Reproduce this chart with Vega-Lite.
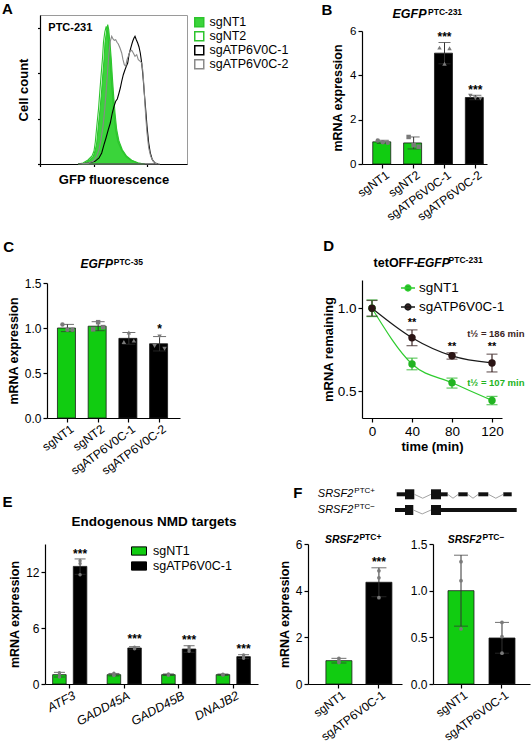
{
"$schema": "https://vega.github.io/schema/vega-lite/v6.json",
"autosize": {"type": "none"},
"padding": {"left": 40, "top": 15, "right": 491, "bottom": 735},
"background": "white",
"config": {
 "font": "Liberation Sans",
 "view": {"stroke": null},
 "axis": {"grid": false, "domainColor": "#000", "domainWidth": 1.2, "tickColor": "#000", "tickWidth": 1.2, "tickSize": 4, "labelColor": "#000", "labelFontSize": 11.5, "labelPadding": 2, "titleColor": "#000", "titleFontSize": 12.5, "titleFontWeight": "bold", "labelOverlap": false, "labelFlush": false},
 "text": {"color": "#000", "baseline": "alphabetic", "align": "left", "fontWeight": "bold"},
 "legend": {"labelColor": "#000", "labelFontSize": 12}
},
"datasets": {
 "A": [
  {"s":"sgNT1","x":41.7,"y":0},{"s":"sgNT1","x":45,"y":1},{"s":"sgNT1","x":50,"y":4.3},{"s":"sgNT1","x":53.3,"y":7.7},{"s":"sgNT1","x":55,"y":12.7},{"s":"sgNT1","x":56.7,"y":21},{"s":"sgNT1","x":58.3,"y":37.7},{"s":"sgNT1","x":60,"y":54.3},{"s":"sgNT1","x":61.7,"y":74.3},{"s":"sgNT1","x":62.7,"y":87.7},{"s":"sgNT1","x":64,"y":104.3},{"s":"sgNT1","x":65,"y":121},{"s":"sgNT1","x":66.3,"y":131},{"s":"sgNT1","x":67.7,"y":139.3},{"s":"sgNT1","x":68.7,"y":134.3},{"s":"sgNT1","x":70,"y":121},{"s":"sgNT1","x":71.3,"y":104.3},{"s":"sgNT1","x":72.3,"y":87.7},{"s":"sgNT1","x":73.7,"y":67.7},{"s":"sgNT1","x":75,"y":51},{"s":"sgNT1","x":76.7,"y":34.3},{"s":"sgNT1","x":79,"y":22.7},{"s":"sgNT1","x":82.3,"y":14.3},{"s":"sgNT1","x":86.7,"y":7.7},{"s":"sgNT1","x":91.7,"y":3.7},{"s":"sgNT1","x":98.3,"y":1},{"s":"sgNT1","x":105,"y":0},
  {"s":"sgNT2","x":38,"y":0},{"s":"sgNT2","x":43,"y":1},{"s":"sgNT2","x":48,"y":4},{"s":"sgNT2","x":52,"y":8},{"s":"sgNT2","x":54,"y":13},{"s":"sgNT2","x":55.3,"y":22},{"s":"sgNT2","x":56.8,"y":38},{"s":"sgNT2","x":58.5,"y":55},{"s":"sgNT2","x":60,"y":75},{"s":"sgNT2","x":61.2,"y":90},{"s":"sgNT2","x":62.5,"y":106},{"s":"sgNT2","x":63.5,"y":122},{"s":"sgNT2","x":64.8,"y":132},{"s":"sgNT2","x":66.2,"y":137.5},{"s":"sgNT2","x":67.3,"y":133},{"s":"sgNT2","x":68.7,"y":120},{"s":"sgNT2","x":70,"y":104},{"s":"sgNT2","x":71,"y":88},{"s":"sgNT2","x":72.5,"y":68},{"s":"sgNT2","x":73.8,"y":51},{"s":"sgNT2","x":75.5,"y":34},{"s":"sgNT2","x":78,"y":22},{"s":"sgNT2","x":81.5,"y":14},{"s":"sgNT2","x":86,"y":7.5},{"s":"sgNT2","x":91,"y":3.5},{"s":"sgNT2","x":98,"y":1},{"s":"sgNT2","x":104,"y":0},
  {"s":"sgATP6V0C-1","x":38.3,"y":0},{"s":"sgATP6V0C-1","x":48.3,"y":1},{"s":"sgATP6V0C-1","x":55,"y":2.7},{"s":"sgATP6V0C-1","x":59,"y":6},{"s":"sgATP6V0C-1","x":61.7,"y":11},{"s":"sgATP6V0C-1","x":64,"y":19.3},{"s":"sgATP6V0C-1","x":66,"y":26},{"s":"sgATP6V0C-1","x":68.3,"y":34.3},{"s":"sgATP6V0C-1","x":70.3,"y":41},{"s":"sgATP6V0C-1","x":72.3,"y":51},{"s":"sgATP6V0C-1","x":74,"y":57.7},{"s":"sgATP6V0C-1","x":75.7,"y":62.7},{"s":"sgATP6V0C-1","x":77.3,"y":65},{"s":"sgATP6V0C-1","x":79,"y":71},{"s":"sgATP6V0C-1","x":80.3,"y":76},{"s":"sgATP6V0C-1","x":81.7,"y":82.7},{"s":"sgATP6V0C-1","x":83.3,"y":89.3},{"s":"sgATP6V0C-1","x":85,"y":94.3},{"s":"sgATP6V0C-1","x":86.3,"y":97.7},{"s":"sgATP6V0C-1","x":87.7,"y":101},{"s":"sgATP6V0C-1","x":89,"y":109.3},{"s":"sgATP6V0C-1","x":90.3,"y":114.3},{"s":"sgATP6V0C-1","x":91.7,"y":119.3},{"s":"sgATP6V0C-1","x":92.7,"y":122.7},{"s":"sgATP6V0C-1","x":94,"y":126},{"s":"sgATP6V0C-1","x":95,"y":127.7},{"s":"sgATP6V0C-1","x":96.3,"y":124.3},{"s":"sgATP6V0C-1","x":97.7,"y":121},{"s":"sgATP6V0C-1","x":99,"y":117},{"s":"sgATP6V0C-1","x":100.3,"y":111},{"s":"sgATP6V0C-1","x":101.7,"y":101},{"s":"sgATP6V0C-1","x":103,"y":87.7},{"s":"sgATP6V0C-1","x":104.3,"y":71},{"s":"sgATP6V0C-1","x":105.7,"y":54.3},{"s":"sgATP6V0C-1","x":107,"y":37.7},{"s":"sgATP6V0C-1","x":108.7,"y":21},{"s":"sgATP6V0C-1","x":110.3,"y":11},{"s":"sgATP6V0C-1","x":112.3,"y":4.3},{"s":"sgATP6V0C-1","x":115,"y":1},{"s":"sgATP6V0C-1","x":118.3,"y":0},
  {"s":"sgATP6V0C-2","x":38.3,"y":0},{"s":"sgATP6V0C-2","x":48.3,"y":1},{"s":"sgATP6V0C-2","x":53.3,"y":2.7},{"s":"sgATP6V0C-2","x":56.7,"y":7.7},{"s":"sgATP6V0C-2","x":59,"y":14.3},{"s":"sgATP6V0C-2","x":61,"y":24.3},{"s":"sgATP6V0C-2","x":63,"y":37.7},{"s":"sgATP6V0C-2","x":64.7,"y":54.3},{"s":"sgATP6V0C-2","x":66.3,"y":74.3},{"s":"sgATP6V0C-2","x":67.7,"y":94.3},{"s":"sgATP6V0C-2","x":69,"y":111},{"s":"sgATP6V0C-2","x":70.3,"y":122.7},{"s":"sgATP6V0C-2","x":71.7,"y":127.7},{"s":"sgATP6V0C-2","x":73,"y":125},{"s":"sgATP6V0C-2","x":74.3,"y":123.7},{"s":"sgATP6V0C-2","x":75.7,"y":124.3},{"s":"sgATP6V0C-2","x":77,"y":121.7},{"s":"sgATP6V0C-2","x":78.3,"y":120},{"s":"sgATP6V0C-2","x":80,"y":116},{"s":"sgATP6V0C-2","x":81.7,"y":111},{"s":"sgATP6V0C-2","x":83,"y":104.3},{"s":"sgATP6V0C-2","x":84.3,"y":99.3},{"s":"sgATP6V0C-2","x":85.7,"y":97.7},{"s":"sgATP6V0C-2","x":87,"y":104.3},{"s":"sgATP6V0C-2","x":88.3,"y":107.7},{"s":"sgATP6V0C-2","x":90,"y":112.7},{"s":"sgATP6V0C-2","x":91.7,"y":113.7},{"s":"sgATP6V0C-2","x":93.3,"y":111},{"s":"sgATP6V0C-2","x":95,"y":107.7},{"s":"sgATP6V0C-2","x":96.7,"y":109.3},{"s":"sgATP6V0C-2","x":98.3,"y":104.3},{"s":"sgATP6V0C-2","x":100.3,"y":102.7},{"s":"sgATP6V0C-2","x":101.7,"y":101},{"s":"sgATP6V0C-2","x":102.7,"y":94.3},{"s":"sgATP6V0C-2","x":103.7,"y":81},{"s":"sgATP6V0C-2","x":104.7,"y":64.3},{"s":"sgATP6V0C-2","x":105.7,"y":47.7},{"s":"sgATP6V0C-2","x":107,"y":31},{"s":"sgATP6V0C-2","x":108.7,"y":16},{"s":"sgATP6V0C-2","x":110.7,"y":7.7},{"s":"sgATP6V0C-2","x":113.3,"y":2.7},{"s":"sgATP6V0C-2","x":116.7,"y":0.3},{"s":"sgATP6V0C-2","x":120,"y":0}
 ],
 "B": [{"g":"sgNT1","m":1.0,"lo":0.93,"hi":1.07},{"g":"sgNT2","m":0.95,"lo":0.68,"hi":1.22},{"g":"sgATP6V0C-1","m":5.0,"lo":4.52,"hi":5.48},{"g":"sgATP6V0C-2","m":3.0,"lo":2.9,"hi":3.1}],
 "Brep": [{"g":"sgNT1","r":1,"v":1.06},{"g":"sgNT1","r":2,"v":0.98},{"g":"sgNT1","r":3,"v":0.96},{"g":"sgNT2","r":1,"v":1.22},{"g":"sgNT2","r":2,"v":0.85},{"g":"sgNT2","r":3,"v":0.78},{"g":"sgATP6V0C-1","r":1,"v":5.25},{"g":"sgATP6V0C-1","r":2,"v":4.52},{"g":"sgATP6V0C-1","r":3,"v":5.22},{"g":"sgATP6V0C-2","r":1,"v":3.08},{"g":"sgATP6V0C-2","r":2,"v":2.97},{"g":"sgATP6V0C-2","r":3,"v":2.95}],
 "Bstar": [{"g":"sgATP6V0C-1","y":5.57,"lab":"***"},{"g":"sgATP6V0C-2","y":3.14,"lab":"***"}],
 "C": [{"g":"sgNT1","m":1.0,"lo":0.96,"hi":1.04},{"g":"sgNT2","m":1.02,"lo":0.97,"hi":1.07},{"g":"sgATP6V0C-1","m":0.885,"lo":0.82,"hi":0.95},{"g":"sgATP6V0C-2","m":0.825,"lo":0.745,"hi":0.905}],
 "Crep": [{"g":"sgNT1","r":1,"v":1.04},{"g":"sgNT1","r":2,"v":0.98},{"g":"sgNT1","r":3,"v":0.98},{"g":"sgNT2","r":1,"v":0.985},{"g":"sgNT2","r":2,"v":1.065},{"g":"sgNT2","r":3,"v":1.01},{"g":"sgATP6V0C-1","r":1,"v":0.845},{"g":"sgATP6V0C-1","r":2,"v":0.95},{"g":"sgATP6V0C-1","r":3,"v":0.86},{"g":"sgATP6V0C-2","r":1,"v":0.8},{"g":"sgATP6V0C-2","r":2,"v":0.905},{"g":"sgATP6V0C-2","r":3,"v":0.77}],
 "Cstar": [{"g":"sgATP6V0C-2","y":0.945,"lab":"*"}],
 "D": [{"s":"sgNT1","t":0,"m":1.0,"lo":0.95,"hi":1.05},{"s":"sgNT1","t":40,"m":0.665,"lo":0.63,"hi":0.70},{"s":"sgNT1","t":80,"m":0.552,"lo":0.52,"hi":0.58},{"s":"sgNT1","t":120,"m":0.446,"lo":0.42,"hi":0.47},{"s":"sgATP6V0C-1","t":0,"m":1.0,"lo":0.953,"hi":1.047},{"s":"sgATP6V0C-1","t":40,"m":0.823,"lo":0.775,"hi":0.87},{"s":"sgATP6V0C-1","t":80,"m":0.714,"lo":0.694,"hi":0.732},{"s":"sgATP6V0C-1","t":120,"m":0.671,"lo":0.617,"hi":0.724}],
 "Dstar": [{"t":40,"y":0.894,"lab":"**"},{"t":80,"y":0.75,"lab":"**"},{"t":120,"y":0.75,"lab":"**"}],
 "Dhalf": [{"s":"sgATP6V0C-1","t":123.8,"y":0.828,"lab":"t½ = 186 min"},{"s":"sgNT1","t":123.8,"y":0.53,"lab":"t½ = 107 min"}],
 "E": [{"gene":"ATF3","s":"sgNT1","m":1.0,"lo":0.75,"hi":1.25},{"gene":"ATF3","s":"sgATP6V0C-1","m":12.6,"lo":11.75,"hi":13.4},{"gene":"GADD45A","s":"sgNT1","m":1.0,"lo":0.87,"hi":1.13},{"gene":"GADD45A","s":"sgATP6V0C-1","m":3.86,"lo":3.72,"hi":4.0},{"gene":"GADD45B","s":"sgNT1","m":1.0,"lo":0.92,"hi":1.08},{"gene":"GADD45B","s":"sgATP6V0C-1","m":3.75,"lo":3.4,"hi":4.1},{"gene":"DNAJB2","s":"sgNT1","m":1.0,"lo":0.93,"hi":1.07},{"gene":"DNAJB2","s":"sgATP6V0C-1","m":2.93,"lo":2.72,"hi":3.14}],
 "Erep": [{"gene":"ATF3","s":"sgNT1","v":1.2},{"gene":"ATF3","s":"sgNT1","v":1.05},{"gene":"ATF3","s":"sgNT1","v":0.75},{"gene":"ATF3","s":"sgATP6V0C-1","v":13.2},{"gene":"ATF3","s":"sgATP6V0C-1","v":12.9},{"gene":"ATF3","s":"sgATP6V0C-1","v":11.7},{"gene":"GADD45A","s":"sgNT1","v":1.15},{"gene":"GADD45A","s":"sgNT1","v":0.95},{"gene":"GADD45A","s":"sgNT1","v":0.9},{"gene":"GADD45A","s":"sgATP6V0C-1","v":3.95},{"gene":"GADD45A","s":"sgATP6V0C-1","v":3.85},{"gene":"GADD45A","s":"sgATP6V0C-1","v":3.78},{"gene":"GADD45B","s":"sgNT1","v":1.08},{"gene":"GADD45B","s":"sgNT1","v":0.97},{"gene":"GADD45B","s":"sgNT1","v":0.95},{"gene":"GADD45B","s":"sgATP6V0C-1","v":4.0},{"gene":"GADD45B","s":"sgATP6V0C-1","v":3.75},{"gene":"GADD45B","s":"sgATP6V0C-1","v":3.5},{"gene":"DNAJB2","s":"sgNT1","v":1.05},{"gene":"DNAJB2","s":"sgNT1","v":1.0},{"gene":"DNAJB2","s":"sgNT1","v":0.95},{"gene":"DNAJB2","s":"sgATP6V0C-1","v":3.1},{"gene":"DNAJB2","s":"sgATP6V0C-1","v":2.95},{"gene":"DNAJB2","s":"sgATP6V0C-1","v":2.75}],
 "Estar": [{"gene":"ATF3","s":"sgATP6V0C-1","y":13.45,"lab":"***"},{"gene":"GADD45A","s":"sgATP6V0C-1","y":4.35,"lab":"***"},{"gene":"GADD45B","s":"sgATP6V0C-1","y":4.25,"lab":"***"},{"gene":"DNAJB2","s":"sgATP6V0C-1","y":3.29,"lab":"***"}],
 "F1": [{"g":"sgNT1","m":1.0,"lo":0.9,"hi":1.1},{"g":"sgATP6V0C-1","m":4.36,"lo":3.74,"hi":4.98}],
 "F1rep": [{"g":"sgNT1","v":1.1},{"g":"sgNT1","v":1.0},{"g":"sgNT1","v":0.92},{"g":"sgATP6V0C-1","v":4.85},{"g":"sgATP6V0C-1","v":4.55},{"g":"sgATP6V0C-1","v":3.7}],
 "F1star": [{"g":"sgATP6V0C-1","y":5.07,"lab":"***"}],
 "F2": [{"g":"sgNT1","m":1.0,"lo":0.62,"hi":1.38},{"g":"sgATP6V0C-1","m":0.493,"lo":0.33,"hi":0.66}],
 "F2rep": [{"g":"sgNT1","v":1.31},{"g":"sgNT1","v":1.107},{"g":"sgNT1","v":0.59},{"g":"sgATP6V0C-1","v":0.66},{"g":"sgATP6V0C-1","v":0.507},{"g":"sgATP6V0C-1","v":0.33}],
 "Fseg": [{"tr":1,"kind":"utr","a":1.7,"b":10},{"tr":1,"kind":"exon","a":10,"b":19.3},{"tr":1,"kind":"exon","a":36,"b":46},{"tr":1,"kind":"utr","a":46,"b":52.7},{"tr":1,"kind":"utr","a":63.3,"b":72.7},{"tr":1,"kind":"utr","a":83.3,"b":93.3},{"tr":1,"kind":"utr","a":108.3,"b":116.7},{"tr":0,"kind":"utr","a":0,"b":10},{"tr":0,"kind":"exon","a":10,"b":18.3},{"tr":0,"kind":"exon","a":36,"b":46},{"tr":0,"kind":"utr","a":46,"b":121.7}],
 "Fint": [{"id":"i1","x":19.3,"y":1},{"id":"i1","x":27.7,"y":0.75},{"id":"i1","x":36,"y":1},{"id":"i2","x":52.7,"y":1},{"id":"i2","x":58,"y":0.75},{"id":"i2","x":63.3,"y":1},{"id":"i3","x":72.7,"y":1},{"id":"i3","x":78,"y":0.75},{"id":"i3","x":83.3,"y":1},{"id":"i4","x":93.3,"y":1},{"id":"i4","x":100.8,"y":0.75},{"id":"i4","x":108.3,"y":1},{"id":"i5","x":18.3,"y":0},{"id":"i5","x":27.2,"y":-0.25},{"id":"i5","x":36,"y":0}],
 "Flab": [{"tr":1,"gene":"SRSF2","sup":"PTC+"},{"tr":0,"gene":"SRSF2","sup":"PTC−"}]
},
"concat": [
 {"width": 147, "height": 149,
  "view": {"stroke": "#9a9a9a", "strokeWidth": 1},
  "layer": [
   {"data": {"name": "A"},
    "mark": {"type": "area", "interpolate": "linear", "strokeWidth": 1.1},
    "encoding": {
     "x": {"field": "x", "type": "quantitative", "title": "GFP fluorescence", "scale": {"domain": [0, 147], "nice": false, "zero": false}, "axis": {"labels": false, "tickSize": 2.5, "titleFontSize": 13, "titlePadding": 6, "values": [0,8.5,13.5,17,19.8,22,23.9,25.6,27.1,28.3,36.8,41.8,45.3,48.1,50.3,52.2,53.9,55.4,56.7,65.2,70.2,73.7,76.5,78.7,80.6,82.3,83.8,85,93.5,98.5,102,104.8,107,108.9,110.6,112.1,113.3,121.8,126.8,130.3,133.1,135.3,137.2,138.9,140.4,141.7]}},
     "y": {"field": "y", "type": "quantitative", "stack": null, "title": "Cell count", "scale": {"domain": [0, 149], "nice": false}, "axis": {"labels": false, "tickSize": 2.5, "titleFontSize": 13, "titlePadding": 6, "values": [0,5.67,11.3,17,22.7,28.3,34,39.7,45.3,51,56.7,62.3,68,73.7,79.3,85,90.7,96.3,102,107.7,113.3,119,124.7,130.3,136,141.7,147.3]}},
     "fill": {"field": "s", "type": "nominal", "scale": {"domain": ["sgNT1","sgNT2","sgATP6V0C-1","sgATP6V0C-2"], "range": ["#3ad43a","transparent","transparent","transparent"]}, "legend": {"title": null, "orient": "none", "legendX": 153, "legendY": 1, "symbolType": "square", "symbolSize": 81, "symbolStrokeWidth": 1.5, "labelFontSize": 12.5, "labelOffset": 4, "rowPadding": -2}},
     "stroke": {"field": "s", "type": "nominal", "scale": {"domain": ["sgNT1","sgNT2","sgATP6V0C-1","sgATP6V0C-2"], "range": ["#2dc42d","#2dc42d","#000000","#8a8a8a"]}, "legend": {"title": null, "orient": "none", "legendX": 153, "legendY": 1, "symbolType": "square", "symbolSize": 81, "symbolStrokeWidth": 1.5, "labelFontSize": 12.5, "labelOffset": 4, "rowPadding": -2}}
    }},
   {"data": {"values": [{"lab": "A"}]}, "mark": {"type": "text", "fontSize": 15}, "encoding": {"x": {"datum": -38}, "y": {"datum": 150}, "text": {"field": "lab"}}},
   {"data": {"values": [{"lab": "PTC-231"}]}, "mark": {"type": "text", "fontSize": 11}, "encoding": {"x": {"datum": 8.3}, "y": {"datum": 133.3}, "text": {"field": "lab"}}}
  ]},
 {"width": 179, "height": 149,
  "encoding": {"x": {"field": "g", "type": "nominal", "title": null, "scale": {"domain": ["sgNT1","sgNT2","sgATP6V0C-1","sgATP6V0C-2"], "range": [54, 179], "paddingInner": 0.35, "paddingOuter": 0.2, "align": 0.87}, "axis": {"labelAngle": -36, "labelAlign": "right", "labelBaseline": "top", "labelFontSize": 12, "labelOffset": 2, "labelPadding": 1}}},
  "layer": [
   {"data": {"name": "B"}, "mark": {"type": "bar", "stroke": "#1a1a1a", "strokeWidth": 0.8},
    "encoding": {"y": {"field": "m", "type": "quantitative", "title": "mRNA expression", "scale": {"domain": [0, 6], "range": [149, 16], "nice": false}, "axis": {"values": [0,1,2,3,4,5,6], "labelFontSize": 11.5, "titlePadding": 5, "offset": -54}},
     "fill": {"field": "g", "type": "nominal", "scale": {"domain": ["sgNT1","sgNT2","sgATP6V0C-1","sgATP6V0C-2"], "range": ["#11cc11","#11cc11","#000000","#000000"]}, "legend": null}}},
   {"data": {"name": "B"}, "mark": {"type": "errorbar", "color": "#333", "ticks": {"size": 12}, "thickness": 1},
    "encoding": {"y": {"field": "lo", "type": "quantitative", "title": "mRNA expression"}, "y2": {"field": "hi"}}},
   {"data": {"name": "Brep"}, "mark": {"type": "point", "filled": true, "size": 20, "color": "#7a7a7a", "opacity": 1},
    "encoding": {"y": {"field": "v", "type": "quantitative", "title": "mRNA expression"}, "xOffset": {"field": "r", "type": "nominal", "scale": {"paddingOuter": 1}},
     "shape": {"field": "g", "type": "nominal", "scale": {"domain": ["sgNT1","sgNT2","sgATP6V0C-1","sgATP6V0C-2"], "range": ["circle","square","triangle-up","triangle-down"]}, "legend": null}}},
   {"data": {"name": "Bstar"}, "mark": {"type": "text", "fontSize": 12, "align": "center"},
    "encoding": {"y": {"field": "y", "type": "quantitative", "title": "mRNA expression"}, "text": {"field": "lab"}}},
   {"data": {"values": [{"lab": "B"}]}, "mark": {"type": "text", "fontSize": 15, "dx": -61.3}, "encoding": {"x": {"datum": "sgNT1"}, "y": {"datum": 6.72}, "text": {"field": "lab"}}},
   {"data": {"values": [{"lab": "EGFP"}]}, "mark": {"type": "text", "fontSize": 12.5, "fontStyle": "italic", "dx": 9.7}, "encoding": {"x": {"datum": "sgNT1"}, "y": {"datum": 6.57}, "text": {"field": "lab"}}},
   {"data": {"values": [{"lab": "PTC-231"}]}, "mark": {"type": "text", "fontSize": 8.5, "dx": 45.3}, "encoding": {"x": {"datum": "sgNT1"}, "y": {"datum": 6.72}, "text": {"field": "lab"}}}
  ]},
 {"width": 140, "height": 138,
  "encoding": {"x": {"field": "g", "type": "nominal", "title": null, "scale": {"domain": ["sgNT1","sgNT2","sgATP6V0C-1","sgATP6V0C-2"], "range": [7, 140], "paddingInner": 0.35, "paddingOuter": 0.34}, "axis": {"labelAngle": -36, "labelAlign": "right", "labelBaseline": "top", "labelFontSize": 12, "labelOffset": 2, "labelPadding": 1}}},
  "layer": [
   {"data": {"name": "C"}, "mark": {"type": "bar", "stroke": "#1a1a1a", "strokeWidth": 0.8},
    "encoding": {"y": {"field": "m", "type": "quantitative", "title": "mRNA expression", "scale": {"domain": [0, 1.5], "range": [138, 3], "nice": false}, "axis": {"values": [0,0.5,1,1.5], "format": ".1f", "labelFontSize": 12, "offset": -7, "titlePadding": 4}},
     "fill": {"field": "g", "type": "nominal", "scale": {"domain": ["sgNT1","sgNT2","sgATP6V0C-1","sgATP6V0C-2"], "range": ["#11cc11","#11cc11","#000000","#000000"]}, "legend": null}}},
   {"data": {"name": "C"}, "mark": {"type": "errorbar", "color": "#333", "ticks": {"size": 13}, "thickness": 1},
    "encoding": {"y": {"field": "lo", "type": "quantitative", "title": "mRNA expression"}, "y2": {"field": "hi"}}},
   {"data": {"name": "Crep"}, "mark": {"type": "point", "filled": true, "size": 20, "color": "#7a7a7a", "opacity": 1},
    "encoding": {"y": {"field": "v", "type": "quantitative", "title": "mRNA expression"}, "xOffset": {"field": "r", "type": "nominal", "scale": {"paddingOuter": 1}},
     "shape": {"field": "g", "type": "nominal", "scale": {"domain": ["sgNT1","sgNT2","sgATP6V0C-1","sgATP6V0C-2"], "range": ["circle","square","triangle-up","triangle-down"]}, "legend": null}}},
   {"data": {"name": "Cstar"}, "mark": {"type": "text", "fontSize": 12, "align": "center"},
    "encoding": {"y": {"field": "y", "type": "quantitative", "title": "mRNA expression"}, "text": {"field": "lab"}}},
   {"data": {"values": [{"lab": "C"}]}, "mark": {"type": "text", "fontSize": 15, "dx": -64.3}, "encoding": {"x": {"datum": "sgNT1"}, "y": {"datum": 1.844}, "text": {"field": "lab"}}},
   {"data": {"values": [{"lab": "EGFP"}]}, "mark": {"type": "text", "fontSize": 12, "fontStyle": "italic", "dx": 13}, "encoding": {"x": {"datum": "sgNT1"}, "y": {"datum": 1.667}, "text": {"field": "lab"}}},
   {"data": {"values": [{"lab": "PTC-35"}]}, "mark": {"type": "text", "fontSize": 8.5, "dx": 46.3}, "encoding": {"x": {"datum": "sgNT1"}, "y": {"datum": 1.7}, "text": {"field": "lab"}}}
  ]},
 {"width": 194, "height": 138,
  "layer": [
   {"data": {"name": "D"}, "mark": {"type": "line", "interpolate": "monotone", "strokeWidth": 1.2},
    "encoding": {"x": {"field": "t", "type": "quantitative", "title": "time (min)", "scale": {"domain": [-10, 130], "range": [54, 194], "nice": false, "zero": false}, "axis": {"values": [0,40,80,120], "labelFontSize": 13.5, "titleFontSize": 13, "titlePadding": 3}},
     "y": {"field": "m", "type": "quantitative", "title": "mRNA remaining", "scale": {"domain": [0.34, 1.17], "nice": false, "zero": false}, "axis": {"values": [0.5, 1.0], "format": ".1f", "labelFontSize": 13.5, "titleFontSize": 13, "titlePadding": 2, "offset": -54}},
     "stroke": {"field": "s", "type": "nominal", "scale": {"domain": ["sgNT1","sgATP6V0C-1"], "range": ["#2ecc2e","#1a1a1a"]}, "legend": {"title": null, "orient": "none", "legendX": 92, "legendY": 0, "symbolType": "M-1,0H1M-0.43,0A0.43,0.43,0,1,0,0.43,0A0.43,0.43,0,1,0,-0.43,0", "symbolSize": 196, "symbolStrokeWidth": 1.3, "labelFontSize": 13.5, "labelOffset": 3, "rowPadding": 4}}}},
   {"data": {"name": "D"}, "mark": {"type": "errorbar", "ticks": {"size": 11}, "thickness": 1.2},
    "encoding": {"x": {"field": "t", "type": "quantitative", "title": "time (min)"}, "y": {"field": "lo", "type": "quantitative", "title": "mRNA remaining"}, "y2": {"field": "hi"},
     "color": {"field": "s", "type": "nominal", "scale": {"domain": ["sgNT1","sgATP6V0C-1"], "range": ["#22b422","#3b2424"]}, "legend": null}}},
   {"data": {"name": "D"}, "mark": {"type": "point", "filled": true, "size": 55, "opacity": 1},
    "encoding": {"x": {"field": "t", "type": "quantitative", "title": "time (min)"}, "y": {"field": "m", "type": "quantitative", "title": "mRNA remaining"},
     "fill": {"field": "s", "type": "nominal", "scale": {"domain": ["sgNT1","sgATP6V0C-1"], "range": ["#22b422","#2a1414"]}, "legend": {"title": null, "orient": "none", "legendX": 92, "legendY": 0, "symbolType": "M-1,0H1M-0.43,0A0.43,0.43,0,1,0,0.43,0A0.43,0.43,0,1,0,-0.43,0", "symbolSize": 196, "symbolStrokeWidth": 1.3, "labelFontSize": 13.5, "labelOffset": 3, "rowPadding": 4}}}},
   {"data": {"name": "Dstar"}, "mark": {"type": "text", "fontSize": 11, "align": "center"},
    "encoding": {"x": {"field": "t", "type": "quantitative", "title": "time (min)"}, "y": {"field": "y", "type": "quantitative", "title": "mRNA remaining"}, "text": {"field": "lab"}}},
   {"data": {"name": "Dhalf"}, "mark": {"type": "text", "fontSize": 9.5, "align": "center"},
    "encoding": {"x": {"field": "t", "type": "quantitative", "title": "time (min)"}, "y": {"field": "y", "type": "quantitative", "title": "mRNA remaining"}, "text": {"field": "lab"},
     "color": {"field": "s", "type": "nominal", "scale": {"domain": ["sgNT1","sgATP6V0C-1"], "range": ["#22b422","#000000"]}, "legend": null}}},
   {"data": {"values": [{"lab": "D"}]}, "mark": {"type": "text", "fontSize": 15}, "encoding": {"x": {"datum": -48.7}, "y": {"datum": 1.346}, "text": {"field": "lab"}}},
   {"data": {"values": [{"lab": "tetOFF-"}]}, "mark": {"type": "text", "fontSize": 12.5}, "encoding": {"x": {"datum": 1.6}, "y": {"datum": 1.25}, "text": {"field": "lab"}}},
   {"data": {"values": [{"lab": "EGFP"}]}, "mark": {"type": "text", "fontSize": 12, "fontStyle": "italic"}, "encoding": {"x": {"datum": 45}, "y": {"datum": 1.25}, "text": {"field": "lab"}}},
   {"data": {"values": [{"lab": "PTC-231"}]}, "mark": {"type": "text", "fontSize": 8.5}, "encoding": {"x": {"datum": 76.6}, "y": {"datum": 1.27}, "text": {"field": "lab"}}}
  ]},
 {"width": 218, "height": 150,
  "encoding": {"x": {"field": "gene", "type": "nominal", "title": null, "scale": {"domain": ["ATF3","GADD45A","GADD45B","DNAJB2"], "range": [5, 218], "paddingInner": 0.244, "paddingOuter": 0.076}, "axis": {"labelAngle": -28, "labelAlign": "right", "labelBaseline": "top", "labelFontStyle": "italic", "labelFontSize": 12.5, "labelOffset": 2, "labelPadding": 1}}},
  "layer": [
   {"data": {"name": "E"}, "mark": {"type": "bar", "stroke": "#1a1a1a", "strokeWidth": 0.8},
    "encoding": {"xOffset": {"field": "s", "type": "nominal", "scale": {"domain": ["sgNT1","sgATP6V0C-1"], "paddingInner": 0.345, "paddingOuter": 0.17}},
     "y": {"field": "m", "type": "quantitative", "title": "mRNA expression", "scale": {"domain": [0, 15], "range": [150, 10], "nice": false}, "axis": {"values": [0,3,6,9,12,15], "labelFontSize": 12, "offset": -5, "titlePadding": 4}},
     "fill": {"field": "s", "type": "nominal", "scale": {"domain": ["sgNT1","sgATP6V0C-1"], "range": ["#11cc11","#000000"]}, "legend": {"title": null, "orient": "none", "legendX": 91, "legendY": 9, "symbolType": "M-1,-0.55H1V0.55H-1Z", "symbolSize": 225, "symbolStrokeColor": "#000", "symbolStrokeWidth": 1, "labelFontSize": 12.5, "labelOffset": 6, "rowPadding": -3.5}}}},
   {"data": {"name": "E"}, "mark": {"type": "rule", "color": "#333", "strokeWidth": 1},
    "encoding": {"xOffset": {"field": "s", "type": "nominal"}, "y": {"field": "lo", "type": "quantitative", "title": "mRNA expression"}, "y2": {"field": "hi"}}},
   {"data": {"name": "E"}, "mark": {"type": "tick", "color": "#333", "size": 11, "thickness": 1},
    "encoding": {"xOffset": {"field": "s", "type": "nominal"}, "y": {"field": "lo", "type": "quantitative", "title": "mRNA expression"}}},
   {"data": {"name": "E"}, "mark": {"type": "tick", "color": "#333", "size": 11, "thickness": 1},
    "encoding": {"xOffset": {"field": "s", "type": "nominal"}, "y": {"field": "hi", "type": "quantitative", "title": "mRNA expression"}}},
   {"data": {"name": "Erep"}, "mark": {"type": "point", "filled": true, "size": 12, "color": "#7a7a7a", "opacity": 1},
    "encoding": {"xOffset": {"field": "s", "type": "nominal"}, "y": {"field": "v", "type": "quantitative", "title": "mRNA expression"}}},
   {"data": {"name": "Estar"}, "mark": {"type": "text", "fontSize": 12, "align": "center"},
    "encoding": {"xOffset": {"field": "s", "type": "nominal"}, "y": {"field": "y", "type": "quantitative", "title": "mRNA expression"}, "text": {"field": "lab"}}},
   {"data": {"values": [{"lab": "E"}]}, "mark": {"type": "text", "fontSize": 15, "dx": -67.3}, "encoding": {"x": {"datum": "ATF3"}, "y": {"datum": 18.93}, "text": {"field": "lab"}}},
   {"data": {"values": [{"lab": "Endogenous NMD targets"}]}, "mark": {"type": "text", "fontSize": 13.5, "dx": 1.7}, "encoding": {"x": {"datum": "ATF3"}, "y": {"datum": 16.93}, "text": {"field": "lab"}}}
  ]},
 {"width": 222, "height": 150,
  "resolve": {"scale": {"x": "independent", "y": "independent"}, "axis": {"x": "independent", "y": "independent"}},
  "layer": [
   {"layer": [
     {"data": {"name": "Fseg"}, "mark": {"type": "rule", "color": "#111", "strokeCap": "butt"},
      "encoding": {"x": {"field": "a", "type": "quantitative", "scale": {"domain": [0, 122], "range": [87, 209], "nice": false, "zero": false}, "axis": null},
       "x2": {"field": "b"},
       "y": {"field": "tr", "type": "quantitative", "scale": {"domain": [0, 1], "range": [-24, -39.7], "nice": false, "zero": false}, "axis": null},
       "strokeWidth": {"field": "kind", "type": "ordinal", "scale": {"domain": ["exon","utr"], "range": [10, 4]}, "legend": null}}},
     {"data": {"name": "Fint"}, "mark": {"type": "line", "color": "#8a8a8a", "strokeWidth": 0.8},
      "encoding": {"x": {"field": "x", "type": "quantitative", "axis": null}, "y": {"field": "y", "type": "quantitative", "axis": null}, "detail": {"field": "id"}}},
     {"data": {"name": "Flab"}, "mark": {"type": "text", "align": "right", "baseline": "middle", "fontStyle": "italic", "fontWeight": "normal", "fontSize": 11},
      "encoding": {"x": {"datum": -41.7, "axis": null}, "y": {"field": "tr", "type": "quantitative", "axis": null}, "text": {"field": "gene"}}},
     {"data": {"name": "Flab"}, "mark": {"type": "text", "align": "left", "baseline": "middle", "fontWeight": "normal", "fontSize": 8, "dy": -3},
      "encoding": {"x": {"datum": -40.7, "axis": null}, "y": {"field": "tr", "type": "quantitative", "axis": null}, "text": {"field": "sup"}}}
    ]},
   {"encoding": {"x": {"field": "g", "type": "nominal", "title": null, "scale": {"domain": ["sgNT1","sgATP6V0C-1"], "range": [0, 94], "paddingInner": 0.35, "paddingOuter": 0.35, "align": 0.64}, "axis": {"orient": "bottom", "labelAngle": -36, "labelAlign": "right", "labelBaseline": "top", "labelFontSize": 12, "labelOffset": 2, "labelPadding": 1}}},
    "layer": [
     {"data": {"name": "F1"}, "mark": {"type": "bar", "stroke": "#1a1a1a", "strokeWidth": 0.8},
      "encoding": {"y": {"field": "m", "type": "quantitative", "title": "mRNA expression", "scale": {"domain": [0, 6], "range": [150, 10], "nice": false}, "axis": {"orient": "left", "values": [0,2,4,6], "labelFontSize": 12, "titlePadding": 4}},
       "fill": {"field": "g", "type": "nominal", "scale": {"domain": ["sgNT1","sgATP6V0C-1"], "range": ["#11cc11","#000000"]}, "legend": null}}},
     {"data": {"name": "F1"}, "mark": {"type": "errorbar", "color": "#333", "ticks": {"size": 15}, "thickness": 1},
      "encoding": {"y": {"field": "lo", "type": "quantitative", "title": "mRNA expression"}, "y2": {"field": "hi"}}},
     {"data": {"name": "F1rep"}, "mark": {"type": "point", "filled": true, "size": 14, "color": "#7a7a7a", "opacity": 1},
      "encoding": {"y": {"field": "v", "type": "quantitative", "title": "mRNA expression"}}},
     {"data": {"name": "F1star"}, "mark": {"type": "text", "fontSize": 12, "align": "center"},
      "encoding": {"y": {"field": "y", "type": "quantitative", "title": "mRNA expression"}, "text": {"field": "lab"}}},
     {"data": {"values": [{"lab": "F"}]}, "mark": {"type": "text", "fontSize": 15, "dx": -45.7}, "encoding": {"x": {"datum": "sgNT1"}, "y": {"datum": 7.96}, "text": {"field": "lab"}}},
     {"data": {"values": [{"lab": "SRSF2"}]}, "mark": {"type": "text", "fontSize": 10.5, "fontStyle": "italic", "dx": -14}, "encoding": {"x": {"datum": "sgNT1"}, "y": {"datum": 6.04}, "text": {"field": "lab"}}},
     {"data": {"values": [{"lab": "PTC+"}]}, "mark": {"type": "text", "fontSize": 8.5, "dx": 20.5}, "encoding": {"x": {"datum": "sgNT1"}, "y": {"datum": 6.17}, "text": {"field": "lab"}}}
    ]},
   {"encoding": {"x": {"field": "g", "type": "nominal", "title": null, "scale": {"domain": ["sgNT1","sgATP6V0C-1"], "range": [125, 222], "paddingInner": 0.366, "paddingOuter": 0.366}, "axis": {"orient": "bottom", "labelAngle": -36, "labelAlign": "right", "labelBaseline": "top", "labelFontSize": 12, "labelOffset": 2, "labelPadding": 1}}},
    "layer": [
     {"data": {"name": "F2"}, "mark": {"type": "bar", "stroke": "#1a1a1a", "strokeWidth": 0.8},
      "encoding": {"y": {"field": "m", "type": "quantitative", "title": null, "scale": {"domain": [0, 1.5], "range": [150, 10], "nice": false}, "axis": {"orient": "left", "values": [0,0.5,1,1.5], "format": ".1f", "labelFontSize": 12, "offset": -125}},
       "fill": {"field": "g", "type": "nominal", "scale": {"domain": ["sgNT1","sgATP6V0C-1"], "range": ["#11cc11","#000000"]}, "legend": null}}},
     {"data": {"name": "F2"}, "mark": {"type": "errorbar", "color": "#333", "ticks": {"size": 14}, "thickness": 1},
      "encoding": {"y": {"field": "lo", "type": "quantitative", "title": null}, "y2": {"field": "hi"}}},
     {"data": {"name": "F2rep"}, "mark": {"type": "point", "filled": true, "size": 14, "color": "#7a7a7a", "opacity": 1},
      "encoding": {"y": {"field": "v", "type": "quantitative", "title": null}}},
     {"data": {"values": [{"lab": "SRSF2"}]}, "mark": {"type": "text", "fontSize": 10.5, "fontStyle": "italic", "dx": -13.3}, "encoding": {"x": {"datum": "sgNT1"}, "y": {"datum": 1.511}, "text": {"field": "lab"}}},
     {"data": {"values": [{"lab": "PTC−"}]}, "mark": {"type": "text", "fontSize": 8.5, "dx": 21.5}, "encoding": {"x": {"datum": "sgNT1"}, "y": {"datum": 1.543}, "text": {"field": "lab"}}}
    ]}
  ]}
],
"columns": 2,
"spacing": {"row": 116, "column": 50},
"bounds": "flush",
"resolve": {"scale": {"fill": "independent", "stroke": "independent", "color": "independent", "shape": "independent", "xOffset": "independent", "strokeWidth": "independent"}}
}
